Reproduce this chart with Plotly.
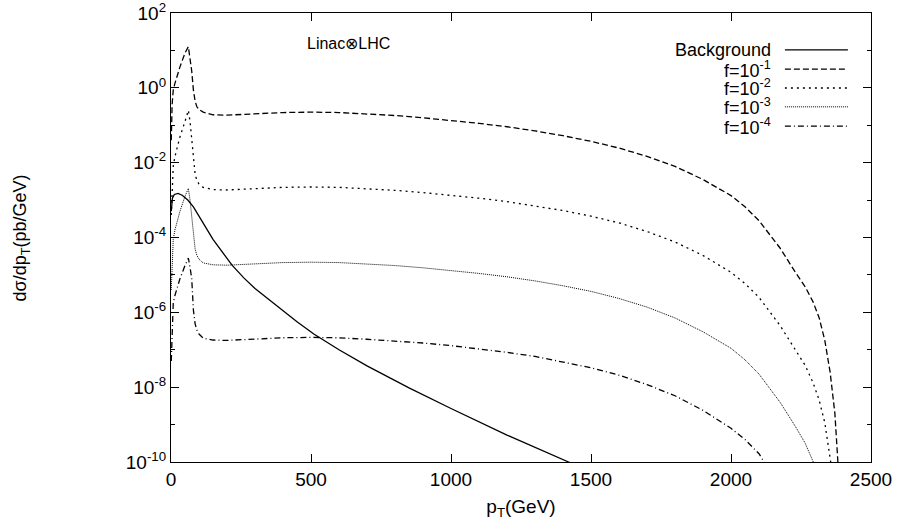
import plotly.graph_objects as go

# ---- data (pT in GeV, log10 of dsigma/dpT in pb/GeV) ----
bg_pt = [1, 5, 12, 25, 40, 60, 80, 110, 150, 218, 260, 300, 389, 450, 510, 600, 700, 850, 1000, 1200, 1420, 1450]
bg_log = [-3.3, -2.95, -2.85, -2.82, -2.87, -3.0, -3.18, -3.55, -4.05, -4.74, -5.08, -5.36, -5.9, -6.25, -6.58,
          -7.0, -7.43, -8.02, -8.57, -9.28, -10.0, -10.1]

f1_pt = [1, 4, 8, 14, 32, 50, 62, 68, 74, 80, 86, 92, 100, 115, 150, 200, 300, 400, 500, 600, 700, 800, 900,
         1000, 1100, 1200, 1300, 1400, 1500, 1600, 1700, 1800, 1900, 2000, 2050, 2100, 2175, 2230, 2265, 2293,
         2315, 2335, 2354, 2371, 2382, 2390]
f1_log = [-1.4, -0.45, -0.06, 0.12, 0.56, 0.93, 1.1, 0.8, 0.45, -0.06, -0.35, -0.5, -0.58, -0.65, -0.72, -0.73,
          -0.69, -0.66, -0.65, -0.66, -0.7, -0.74, -0.8, -0.87, -0.95, -1.04, -1.15, -1.28, -1.43, -1.61, -1.83,
          -2.1, -2.45, -2.88, -3.18, -3.55, -4.28, -4.93, -5.32, -5.72, -6.15, -6.75, -7.6, -8.7, -9.8, -11.0]

f2_pt = [1, 4, 8, 14, 32, 50, 62, 68, 74, 80, 86, 92, 100, 115, 150, 200, 300, 400, 500, 600, 700, 800, 900,
         1000, 1100, 1200, 1300, 1400, 1500, 1600, 1700, 1800, 1900, 2000, 2050, 2100, 2175, 2230, 2265, 2293,
         2315, 2335, 2356, 2367]
f2_log = [-3.4, -2.5, -2.1, -1.84, -1.31, -0.9, -0.6, -0.9, -1.4, -2.0, -2.3, -2.47, -2.57, -2.66, -2.72, -2.73,
          -2.69, -2.66, -2.65, -2.66, -2.7, -2.74, -2.8, -2.87, -2.95, -3.04, -3.15, -3.28, -3.43, -3.61, -3.84,
          -4.12, -4.48, -4.93, -5.23, -5.6, -6.35, -7.0, -7.42, -7.88, -8.35, -8.95, -10.0, -11.0]

f3_pt = [1, 4, 8, 14, 32, 50, 62, 68, 74, 80, 86, 92, 100, 115, 150, 200, 300, 400, 500, 600, 700, 800, 900,
         1000, 1100, 1200, 1300, 1400, 1500, 1600, 1700, 1800, 1900, 2000, 2050, 2100, 2175, 2230, 2265, 2295,
         2312]
f3_log = [-5.4, -4.5, -4.05, -3.8, -3.3, -2.9, -2.69, -3.0, -3.5, -4.0, -4.3, -4.47, -4.58, -4.68, -4.73, -4.74,
          -4.7, -4.67, -4.66, -4.67, -4.71, -4.75, -4.81, -4.88, -4.96, -5.05, -5.16, -5.29, -5.44, -5.63, -5.86,
          -6.15, -6.52, -6.96, -7.27, -7.65, -8.4, -9.05, -9.5, -10.02, -11.0]

f4_pt = [1, 4, 8, 14, 32, 50, 62, 68, 74, 80, 86, 92, 100, 115, 150, 200, 300, 400, 500, 600, 700, 800, 900,
         1000, 1100, 1200, 1300, 1400, 1500, 1600, 1700, 1800, 1900, 2000, 2050, 2100, 2135]
f4_log = [-7.3, -6.4, -5.75, -5.55, -5.1, -4.75, -4.55, -4.8, -5.1, -5.94, -6.3, -6.47, -6.58, -6.69, -6.74,
          -6.75, -6.71, -6.68, -6.67, -6.68, -6.72, -6.76, -6.82, -6.89, -6.97, -7.07, -7.18, -7.32, -7.48, -7.68,
          -7.93, -8.23, -8.62, -9.1, -9.4, -9.78, -10.2]

legend_labels = ["Background", "f=10<sup>-1</sup>", "f=10<sup>-2</sup>", "f=10<sup>-3</sup>", "f=10<sup>-4</sup>"]
x_ticks = [0, 500, 1000, 1500, 2000, 2500]
y_major_exp = [2, 0, -2, -4, -6, -8, -10]
y_minor_exp = [1, -1, -3, -5, -7, -9]

FONT = "Liberation Sans, Arial, Helvetica, sans-serif"
dashes = ["solid", "6px,3px", "2px,4px", "1px,1px", "6px,3px,1px,3px"]
widths = [1.3, 1.3, 1.3, 1.0, 1.3]

series = [(bg_pt, bg_log), (f1_pt, f1_log), (f2_pt, f2_log), (f3_pt, f3_log), (f4_pt, f4_log)]

fig = go.Figure()
for (xs, ls), name, d, w in zip(series, legend_labels, dashes, widths):
    fig.add_trace(go.Scatter(
        x=xs, y=[10 ** v for v in ls], mode="lines", name=name,
        line=dict(color="black", width=w, dash=d, shape="linear"),
        showlegend=False,
    ))

# legend drawn gnuplot-style: text on the left, line sample on the right
leg_y = [0.918, 0.875, 0.833, 0.791, 0.748]
for lab, d, w, yy in zip(legend_labels, dashes, widths, leg_y):
    fig.add_annotation(x=0.86, y=yy, xref="paper", yref="paper", text=lab, showarrow=False,
                       xanchor="right", yanchor="middle", font=dict(size=18, family=FONT, color="black"))
    fig.add_shape(type="line", xref="paper", yref="paper", x0=0.877, x1=0.967, y0=yy, y1=yy,
                  line=dict(color="black", width=w, dash=d))

fig.add_annotation(x=0.254, y=0.933, xref="paper", yref="paper", text="Linac⊗LHC", showarrow=False,
                   xanchor="center", yanchor="middle", font=dict(size=16, family=FONT, color="black"))

fig.add_annotation(x=-0.213, y=0.5, xref="paper", yref="paper", text="dσ/dp<sub>T</sub>(pb/GeV)",
                   showarrow=False, textangle=-90, xanchor="center", yanchor="middle",
                   font=dict(size=18, family=FONT, color="black"))

fig.update_layout(
    width=899, height=529,
    margin=dict(l=171, r=28, t=13, b=67, autoexpand=False),
    paper_bgcolor="white", plot_bgcolor="white",
    font=dict(family=FONT, size=19, color="black"),
    xaxis=dict(
        range=[0, 2500], tickvals=x_ticks, ticktext=[str(v) for v in x_ticks],
        ticks="inside", ticklen=8, tickcolor="black", showline=True, linecolor="black", linewidth=1.2,
        mirror="ticks", showgrid=False, zeroline=False, automargin=False,
        title=dict(text="p<sub>T</sub>(GeV)", font=dict(size=19, family=FONT), standoff=10),
    ),
    yaxis=dict(
        type="log", range=[-10, 2],
        tickvals=[10.0 ** e for e in y_major_exp],
        ticktext=["10<sup>%d</sup>" % e for e in y_major_exp],
        ticklabeloverflow="allow", automargin=False,
        ticks="inside", ticklen=8, tickcolor="black", showline=True, linecolor="black", linewidth=1.2,
        mirror="allticks", showgrid=False, zeroline=False,
        minor=dict(tickvals=[10.0 ** e for e in y_minor_exp], ticks="inside", ticklen=4, tickcolor="black"),
    ),
)

fig.write_html("out.html")
